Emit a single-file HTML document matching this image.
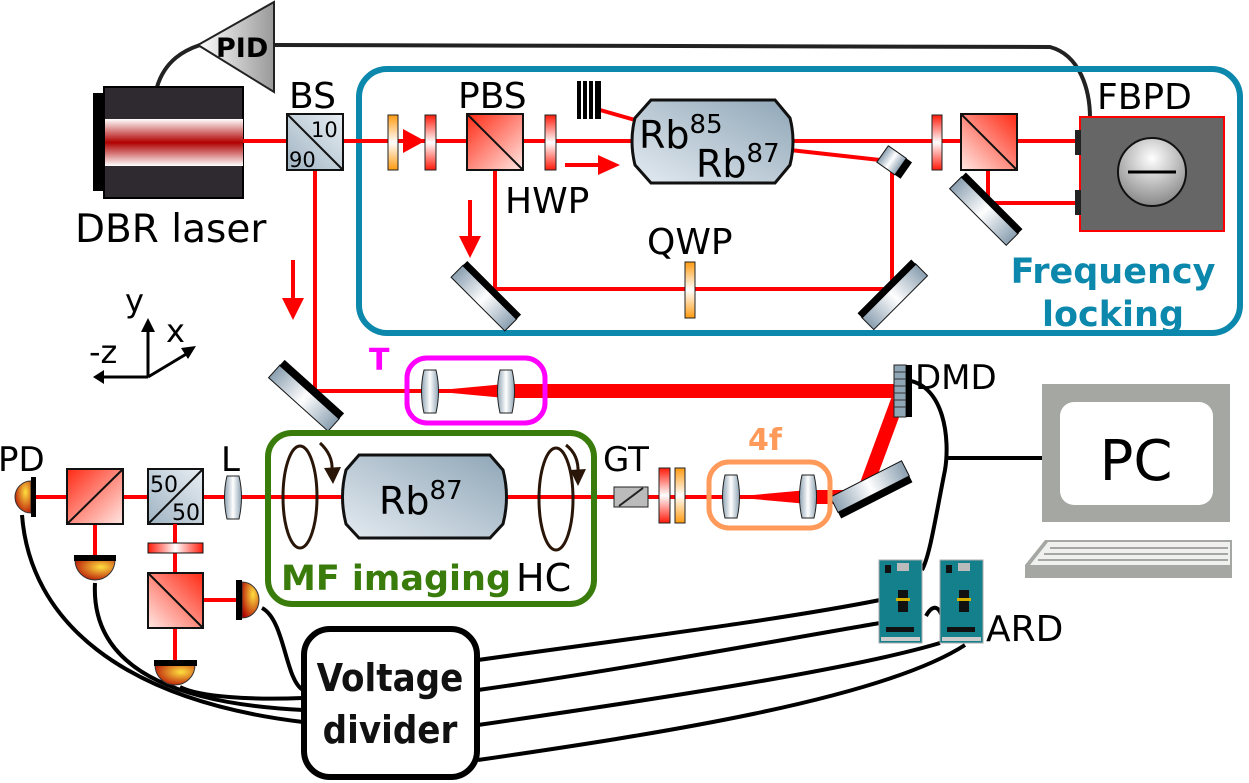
<!DOCTYPE html>
<html><head><meta charset="utf-8"><style>
html,body{margin:0;padding:0;background:#fff;}
svg{display:block;font-family:"DejaVu Sans","Liberation Sans",sans-serif;}
</style></head><body>
<svg width="1249" height="783" viewBox="0 0 1249 783" xmlns="http://www.w3.org/2000/svg">
<defs>
<linearGradient id="mg" x1="0" x2="1" y1="0" y2="0"><stop offset="0" stop-color="#8a9fb0"/><stop offset="0.5" stop-color="#ffffff"/><stop offset="1" stop-color="#8a9fb0"/></linearGradient>
<linearGradient id="rc" x1="0" y1="0" x2="1" y2="1"><stop offset="0" stop-color="#ff2a14"/><stop offset="1" stop-color="#ffe8e4"/></linearGradient>
<linearGradient id="rc2" x1="1" y1="0" x2="0" y2="1"><stop offset="0" stop-color="#ff2a14"/><stop offset="1" stop-color="#ffe8e4"/></linearGradient>
<linearGradient id="bc" x1="0" y1="1" x2="1" y2="0"><stop offset="0" stop-color="#9fb3c2"/><stop offset="1" stop-color="#e8eef3"/></linearGradient>
<linearGradient id="cell" x1="0" y1="1" x2="1" y2="0"><stop offset="0" stop-color="#e4ebf1"/><stop offset="1" stop-color="#8fa6b7"/></linearGradient>
<linearGradient id="rp" x1="0" x2="0" y1="0" y2="1"><stop offset="0" stop-color="#ff1a0a"/><stop offset="0.5" stop-color="#fff"/><stop offset="1" stop-color="#ff1a0a"/></linearGradient>
<linearGradient id="op" x1="0" x2="0" y1="0" y2="1"><stop offset="0" stop-color="#ff9a10"/><stop offset="0.5" stop-color="#fff"/><stop offset="1" stop-color="#ff9a10"/></linearGradient>
<linearGradient id="rph" x1="0" x2="1" y1="0" y2="0"><stop offset="0" stop-color="#ff1a0a"/><stop offset="0.5" stop-color="#fff"/><stop offset="1" stop-color="#ff1a0a"/></linearGradient>
<linearGradient id="las" x1="0" x2="0" y1="0" y2="1"><stop offset="0" stop-color="#fff"/><stop offset="0.5" stop-color="#b00000"/><stop offset="1" stop-color="#fff"/></linearGradient>
<linearGradient id="lens" x1="0" x2="1"><stop offset="0" stop-color="#8fa3b3"/><stop offset="0.5" stop-color="#fff"/><stop offset="1" stop-color="#8fa3b3"/></linearGradient>
<linearGradient id="pid" x1="0" x2="1"><stop offset="0" stop-color="#fff"/><stop offset="1" stop-color="#999"/></linearGradient>
<radialGradient id="pd" cx="0.65" cy="0.35" r="0.8"><stop offset="0" stop-color="#ffe040"/><stop offset="1" stop-color="#b00000"/></radialGradient>
<radialGradient id="fb" cx="0.5" cy="0.3" r="0.7"><stop offset="0" stop-color="#fff"/><stop offset="1" stop-color="#888"/></radialGradient>
</defs>

<!-- PID -->
<path d="M157,87 C165,60 185,50 200,45" fill="none" stroke="#222" stroke-width="4"/>
<path d="M275,45 L1050,47 C1080,55 1090,90 1090,118" fill="none" stroke="#222" stroke-width="4"/>
<polygon points="198,45 274,2 274,92" fill="url(#pid)" stroke="#222" stroke-width="2"/>
<text x="216" y="57" font-size="27" font-weight="bold">PID</text>

<!-- Laser -->
<rect x="93" y="93" width="12" height="98" fill="#000"/>
<rect x="104" y="87" width="139" height="111" fill="#2e2a30" stroke="#000" stroke-width="2"/>
<rect x="105" y="119" width="138" height="47" fill="url(#las)"/>
<text x="75" y="242" font-size="39">DBR laser</text>

<!-- frequency locking box -->
<rect x="359" y="69" width="881" height="264" rx="28" fill="none" stroke="#0c88ac" stroke-width="6"/>

<!-- beams top -->
<line x1="243" y1="141" x2="1078" y2="141" stroke="#f00" stroke-width="4"/>
<line x1="315" y1="170" x2="315" y2="392" stroke="#f00" stroke-width="4"/>
<line x1="495" y1="170" x2="495" y2="289" stroke="#f00" stroke-width="4"/>
<line x1="495" y1="289" x2="892" y2="289" stroke="#f00" stroke-width="4"/>
<line x1="892" y1="165" x2="892" y2="289" stroke="#f00" stroke-width="4"/>
<line x1="790" y1="150" x2="880" y2="160" stroke="#f00" stroke-width="4"/>
<line x1="600" y1="110" x2="635" y2="120" stroke="#f00" stroke-width="4"/>
<line x1="988" y1="170" x2="988" y2="203" stroke="#f00" stroke-width="4"/>
<line x1="988" y1="203" x2="1078" y2="203" stroke="#f00" stroke-width="4"/>

<!-- BS -->
<rect x="287" y="114" width="56" height="56" fill="url(#bc)" stroke="#111" stroke-width="2"/>
<line x1="287" y1="114" x2="343" y2="170" stroke="#111" stroke-width="2"/>
<text x="311" y="137" font-size="21">10</text>
<text x="289" y="167" font-size="21">90</text>
<text x="289" y="108" font-size="36">BS</text>

<!-- plates & arrows -->
<rect x="388" y="115" width="10" height="55" fill="url(#op)" stroke="#222"/>
<polygon points="403,129 425,141 403,153" fill="#f00"/>
<rect x="425" y="115" width="11" height="55" fill="url(#rp)" stroke="#222"/>
<rect x="467" y="114" width="56" height="56" fill="url(#rc)" stroke="#111" stroke-width="2"/>
<line x1="467" y1="114" x2="523" y2="170" stroke="#111" stroke-width="2"/>
<text x="458" y="108" font-size="36">PBS</text>
<rect x="545" y="115" width="11" height="55" fill="url(#rp)" stroke="#222"/>
<text x="505" y="213" font-size="36">HWP</text>
<line x1="565" y1="165" x2="600" y2="165" stroke="#f00" stroke-width="4"/>
<polygon points="598,155 620,165 598,175" fill="#f00"/>
<line x1="293" y1="260" x2="293" y2="300" stroke="#f00" stroke-width="4"/>
<polygon points="282,298 293,320 304,298" fill="#f00"/>
<line x1="470" y1="200" x2="470" y2="238" stroke="#f00" stroke-width="4"/>
<polygon points="459,236 470,258 481,236" fill="#f00"/>

<!-- beam block stack -->
<g fill="#000"><rect x="577" y="81" width="4" height="38"/><rect x="583" y="81" width="4" height="38"/><rect x="589" y="81" width="4" height="38"/><rect x="595" y="81" width="6" height="38"/></g>

<!-- Rb cell top -->
<path d="M651,100 L775,100 L790,118 Q796,141 790,165 L775,183 L651,183 L635,165 Q629,141 635,118 Z" fill="url(#cell)" stroke="#111" stroke-width="3"/>
<text x="639" y="148" font-size="38">Rb<tspan font-size="26" dy="-15">85</tspan></text>
<text x="696" y="177" font-size="38">Rb<tspan font-size="26" dy="-15">87</tspan></text>

<!-- mirrors -->
<g transform="translate(894,162) rotate(35)"><rect x="-14" y="-10" width="22" height="20" fill="url(#mg)" stroke="#111"/><rect x="8" y="-10" width="7" height="20" fill="#000"/></g>
<g transform="translate(485,297) rotate(45)"><rect x="-38" y="-7" width="76" height="17" fill="url(#mg)" stroke="#111"/><rect x="-38" y="-13" width="76" height="7" fill="#000"/></g>
<g transform="translate(895,297) rotate(-45)"><rect x="-38" y="-9" width="76" height="17" fill="url(#mg)" stroke="#111"/><rect x="-38" y="-15" width="76" height="7" fill="#000"/></g>
<g transform="translate(985,210) rotate(45)"><rect x="-40" y="-7" width="80" height="17" fill="url(#mg)" stroke="#111"/><rect x="-40" y="-13" width="80" height="7" fill="#000"/></g>

<!-- QWP -->
<rect x="685" y="262" width="10" height="56" fill="url(#op)" stroke="#222"/>
<text x="647" y="254" font-size="36">QWP</text>

<!-- right side locking -->
<rect x="932" y="115" width="10" height="55" fill="url(#rp)" stroke="#222"/>
<rect x="961" y="114" width="56" height="56" fill="url(#rc2)" stroke="#111" stroke-width="2"/>
<line x1="961" y1="114" x2="1017" y2="170" stroke="#111" stroke-width="2"/>
<rect x="1080" y="117" width="144" height="114" fill="#666" stroke="#f00" stroke-width="2"/>
<rect x="1075" y="130" width="6" height="25" fill="#222"/>
<rect x="1075" y="190" width="6" height="25" fill="#222"/>
<circle cx="1152" cy="172" r="34" fill="url(#fb)" stroke="#111" stroke-width="2"/>
<line x1="1128" y1="172" x2="1176" y2="172" stroke="#000" stroke-width="3"/>
<text x="1097" y="109" font-size="36">FBPD</text>
<text x="1113" y="283" font-size="35" font-weight="bold" fill="#0c88ac" text-anchor="middle">Frequency</text>
<text x="1113" y="326" font-size="35" font-weight="bold" fill="#0c88ac" text-anchor="middle">locking</text>

<!-- axes -->
<g stroke="#000" stroke-width="3" fill="none"><line x1="148" y1="377" x2="148" y2="330"/><line x1="148" y1="377" x2="188" y2="353"/><line x1="148" y1="377" x2="102" y2="377"/></g>
<polygon points="141,332 148,318 155,332" fill="#000"/>
<polygon points="181,348 196,346 188,359" fill="#000"/>
<polygon points="104,370 93,377 104,384" fill="#000"/>
<text x="125" y="312" font-size="32">y</text>
<text x="166" y="342" font-size="32">x</text>
<text x="89" y="363" font-size="32">-z</text>

<!-- T -->
<line x1="315" y1="391" x2="505" y2="391" stroke="#f00" stroke-width="4"/>
<polygon points="430,391 505,384 505,398" fill="#f00"/>
<rect x="505" y="384" width="393" height="14" fill="#f00"/>
<rect x="407" y="358" width="138" height="65" rx="20" fill="none" stroke="#f0f" stroke-width="5"/>
<text x="369" y="370" font-size="30" font-weight="bold" fill="#f0f">T</text>
<path d="M424,370 L436,370 Q441,391 436,413 L424,413 Q419,391 424,370 Z" fill="url(#lens)" stroke="#222"/>
<path d="M500,370 L512,370 Q517,391 512,413 L500,413 Q495,391 500,370 Z" fill="url(#lens)" stroke="#222"/>
<g transform="translate(305,397) rotate(42)"><rect x="-40" y="-7" width="80" height="17" fill="url(#mg)" stroke="#111"/><rect x="-40" y="-14" width="80" height="8" fill="#000"/></g>

<!-- DMD -->
<line x1="898" y1="400" x2="864" y2="492" stroke="#f00" stroke-width="14"/>
<rect x="894" y="365" width="12" height="52" fill="#8fa6b7" stroke="#222"/>
<g stroke="#333" stroke-width="1"><line x1="894" y1="372" x2="906" y2="372"/><line x1="894" y1="379" x2="906" y2="379"/><line x1="894" y1="386" x2="906" y2="386"/><line x1="894" y1="393" x2="906" y2="393"/><line x1="894" y1="400" x2="906" y2="400"/><line x1="894" y1="407" x2="906" y2="407"/></g>
<rect x="906" y="365" width="6" height="52" fill="#000"/>
<text x="915" y="389" font-size="34">DMD</text>

<!-- main beam bottom -->
<line x1="35" y1="497" x2="808" y2="497" stroke="#f00" stroke-width="4"/>
<polygon points="731,497 808,490 808,504" fill="#f00"/>
<rect x="808" y="490" width="56" height="14" fill="#f00"/>
<g transform="translate(870,487) rotate(-27)"><rect x="-40" y="-9" width="80" height="17" fill="url(#mg)" stroke="#111"/><rect x="-40" y="8" width="80" height="7" fill="#000"/></g>
<rect x="709" y="462" width="121" height="66" rx="20" fill="none" stroke="#ff9a5a" stroke-width="5"/>
<text x="748" y="450" font-size="30" font-weight="bold" fill="#ff9a5a">4f</text>
<path d="M725,475 L737,475 Q742,497 737,518 L725,518 Q720,497 725,475 Z" fill="url(#lens)" stroke="#222"/>
<path d="M802,475 L814,475 Q819,497 814,518 L802,518 Q797,497 802,475 Z" fill="url(#lens)" stroke="#222"/>
<rect x="659" y="468" width="11" height="55" fill="url(#rp)" stroke="#222"/>
<rect x="675" y="468" width="10" height="55" fill="url(#op)" stroke="#222"/>
<g transform="translate(631,497)"><rect x="-17" y="-10" width="34" height="20" fill="#bbb" stroke="#222"/><line x1="-12" y1="9" x2="12" y2="-9" stroke="#222" stroke-width="2"/></g>
<text x="603" y="471" font-size="34">GT</text>

<!-- MF imaging -->
<rect x="268" y="433" width="326" height="171" rx="24" fill="none" stroke="#3a7c0c" stroke-width="6"/>
<path d="M359,455 L490,455 L503,470 Q510,497 503,524 L490,538 L359,538 L346,524 Q339,497 346,470 Z" fill="url(#cell)" stroke="#111" stroke-width="3"/>
<text x="379" y="514" font-size="38">Rb<tspan font-size="26" dy="-15">87</tspan></text>
<ellipse cx="300" cy="497" rx="17" ry="51" fill="none" stroke="#2a1608" stroke-width="3"/>
<ellipse cx="556" cy="499" rx="17" ry="51" fill="none" stroke="#2a1608" stroke-width="3"/>
<path d="M320,443 Q333,455 332,470" fill="none" stroke="#2a1608" stroke-width="3"/>
<polygon points="324,468 333,484 341,467" fill="#2a1608"/>
<path d="M566,445 Q579,455 578,473" fill="none" stroke="#2a1608" stroke-width="3"/>
<polygon points="570,470 578,486 586,469" fill="#2a1608"/>
<text x="281" y="590" font-size="35" font-weight="bold" fill="#3a7c0c">MF imaging</text>
<text x="516" y="591" font-size="38">HC</text>

<!-- left detection -->
<path d="M227,476 L239,476 Q244,497 239,519 L227,519 Q222,497 227,476 Z" fill="url(#lens)" stroke="#222"/>
<text x="221" y="471" font-size="34">L</text>
<rect x="148" y="469" width="55" height="55" fill="url(#bc)" stroke="#111" stroke-width="2"/>
<line x1="148" y1="524" x2="203" y2="469" stroke="#111" stroke-width="2"/>
<text x="150" y="492" font-size="22">50</text>
<text x="172" y="520" font-size="22">50</text>
<line x1="175" y1="524" x2="175" y2="660" stroke="#f00" stroke-width="4"/>
<line x1="203" y1="600" x2="238" y2="600" stroke="#f00" stroke-width="4"/>
<line x1="95" y1="524" x2="95" y2="556" stroke="#f00" stroke-width="4"/>
<rect x="148" y="543" width="55" height="10" fill="url(#rph)" stroke="#111"/>
<rect x="148" y="573" width="55" height="55" fill="url(#rc2)" stroke="#111" stroke-width="2"/>
<line x1="148" y1="573" x2="203" y2="628" stroke="#111" stroke-width="2"/>
<rect x="67" y="469" width="56" height="55" fill="url(#rc)" stroke="#111" stroke-width="2"/>
<line x1="67" y1="524" x2="123" y2="469" stroke="#111" stroke-width="2"/>
<text x="-2" y="471" font-size="34">PD</text>

<!-- wires -->
<g fill="none" stroke="#000" stroke-width="4">
<path d="M22,515 C30,620 120,700 303,722"/>
<path d="M95,583 C90,680 200,705 303,710"/>
<path d="M180,687 C200,697 250,700 303,698"/>
<path d="M262,608 C285,620 285,680 303,690"/>
<path d="M478,660 C620,640 780,620 880,600"/>
<path d="M478,690 C620,670 780,640 880,623"/>
<path d="M478,725 C650,700 850,670 940,643"/>
<path d="M478,760 C650,735 880,700 965,645"/>
<path d="M906,380 C945,385 950,440 945,470 C935,520 930,555 922,570"/>
<path d="M945,458 L1042,458"/>
<path d="M926,616 C932,605 938,605 942,616"/>
</g>

<!-- PDs -->
<path d="M31,481 A16,16 0 0,0 31,513 Z" fill="url(#pd)" stroke="#333"/>
<rect x="31" y="477" width="5" height="40" fill="#000"/>
<path d="M75,560 A20,20 0 0,0 115,560 Z" fill="url(#pd)" stroke="#333"/>
<rect x="74" y="555" width="42" height="6" fill="#000"/>
<path d="M155,665 A20,20 0 0,0 195,665 Z" fill="url(#pd)" stroke="#333"/>
<rect x="154" y="660" width="43" height="6" fill="#000"/>
<path d="M242,582 A17,18 0 0,1 242,618 Z" fill="url(#pd)" stroke="#333"/>
<rect x="236" y="580" width="6" height="40" fill="#000"/>

<!-- Voltage divider -->
<rect x="304" y="629" width="173" height="148" rx="26" fill="#fff" stroke="#000" stroke-width="6"/>
<text x="390" y="691" font-size="38" font-family="DejaVu Sans Condensed, Liberation Sans Narrow, sans-serif" font-weight="bold" text-anchor="middle" fill="#111">Voltage</text>
<text x="390" y="743" font-size="38" font-family="DejaVu Sans Condensed, Liberation Sans Narrow, sans-serif" font-weight="bold" text-anchor="middle" fill="#111">divider</text>

<!-- ARD boards -->
<g>
<rect x="879" y="560" width="43" height="83" fill="#14808c" stroke="#aaa"/>
<rect x="885" y="565" width="6" height="8" fill="#111"/><rect x="897" y="563" width="12" height="8" fill="#bbb"/>
<rect x="898" y="590" width="10" height="22" fill="#111"/><rect x="896" y="598" width="14" height="3" fill="#d4b000"/>
<rect x="886" y="627" width="28" height="5" fill="#111"/><rect x="881" y="637" width="39" height="4" fill="#ccc"/>
<rect x="940" y="560" width="43" height="83" fill="#14808c" stroke="#aaa"/>
<rect x="946" y="565" width="6" height="8" fill="#111"/><rect x="958" y="563" width="12" height="8" fill="#bbb"/>
<rect x="959" y="590" width="10" height="22" fill="#111"/><rect x="957" y="598" width="14" height="3" fill="#d4b000"/>
<rect x="947" y="627" width="28" height="5" fill="#111"/><rect x="942" y="637" width="39" height="4" fill="#ccc"/>
</g>
<text x="986" y="641" font-size="36">ARD</text>

<!-- PC -->
<rect x="1042" y="384" width="188" height="138" fill="#a5a8a2"/>
<rect x="1060" y="402" width="153" height="103" rx="14" fill="#fff"/>
<text x="1136" y="480" font-size="56" text-anchor="middle">PC</text>
<polygon points="1045,540 1232,540 1232,578 1025,578 1025,565" fill="#a5a8a2"/>
<polygon points="1048,542 1230,542 1230,565 1030,565" fill="#f0f0ee"/>
<g stroke="#a5a8a2" stroke-width="2"><line x1="1050" y1="548" x2="1228" y2="548"/><line x1="1044" y1="554" x2="1228" y2="554"/><line x1="1038" y1="560" x2="1228" y2="560"/></g>
</svg>
</body></html>
